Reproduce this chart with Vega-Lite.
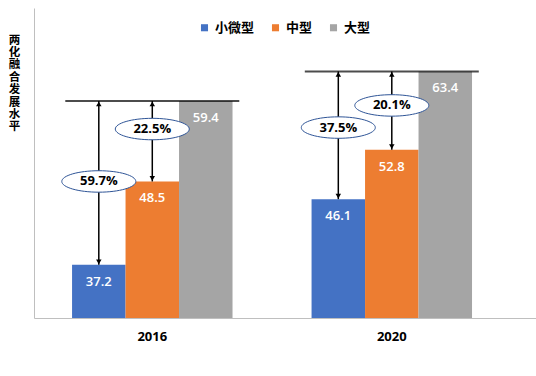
{
  "$schema": "https://vega.github.io/schema/vega-lite/v6.json",
  "width": 502,
  "height": 310,
  "autosize": {"type": "none"},
  "padding": {"left": 34, "top": 8, "right": 0, "bottom": 58},
  "config": {"view": {"stroke": null}, "font": "Noto Sans CJK SC"},
  "datasets": {
    "bars": [
      {"year": "2016", "type": "小微型", "value": 37.2},
      {"year": "2016", "type": "中型", "value": 48.5},
      {"year": "2016", "type": "大型", "value": 59.4},
      {"year": "2020", "type": "小微型", "value": 46.1},
      {"year": "2020", "type": "中型", "value": 52.8},
      {"year": "2020", "type": "大型", "value": 63.4}
    ],
    "arrows": [
      {"year": "2016", "type": "小微型", "top": 59.4, "bottom": 37.2, "label": "59.7%", "labelY": 48.5},
      {"year": "2016", "type": "中型", "top": 59.4, "bottom": 48.5, "label": "22.5%", "labelY": 55.6},
      {"year": "2020", "type": "小微型", "top": 63.4, "bottom": 46.1, "label": "37.5%", "labelY": 55.8},
      {"year": "2020", "type": "中型", "top": 63.4, "bottom": 52.8, "label": "20.1%", "labelY": 58.8}
    ]
  },
  "layer": [
    {
      "data": {"name": "bars"},
      "mark": {"type": "bar"},
      "encoding": {
        "x": {
          "field": "year", "type": "nominal",
          "scale": {"paddingInner": 0.33, "paddingOuter": 0.213, "align": 0.373},
          "axis": {"title": null, "labelAngle": 0, "ticks": false, "labelFontSize": 13, "labelFontWeight": "bold", "labelColor": "#000000", "labelPadding": 12, "domainColor": "#bfbfbf", "labelFont": "Open Sans"}
        },
        "xOffset": {"field": "type", "type": "nominal", "scale": {"domain": ["小微型", "中型", "大型"], "paddingInner": 0, "paddingOuter": 0}},
        "y": {
          "field": "value", "type": "quantitative",
          "scale": {"domain": [30, 72], "zero": false, "nice": false},
          "axis": {"title": ["两", "化", "融", "合", "发", "展", "水", "平"], "titleAngle": 0, "titleX": -20, "titleY": 26, "titleAlign": "center", "titleBaseline": "top", "titleFontSize": 11.5, "titleFontWeight": "bold", "titleColor": "#000000", "titleLineHeight": 12.4, "labels": false, "ticks": false, "grid": false, "domainColor": "#bfbfbf"}
        },
        "y2": {"datum": 30},
        "color": {
          "field": "type", "type": "nominal",
          "scale": {"domain": ["小微型", "中型", "大型"], "range": ["#4472C4", "#ED7D31", "#A5A5A5"]},
          "legend": {"title": null, "orient": "none", "legendX": 164, "legendY": 13, "direction": "horizontal", "symbolType": "square", "symbolSize": 50, "symbolStrokeWidth": 0, "labelFontSize": 13, "labelFontWeight": "bold", "labelColor": "#000000", "columnPadding": 14, "labelOffset": 4, "padding": 0}
        }
      }
    },
    {
      "data": {"name": "bars"},
      "mark": {"type": "text", "dy": 17, "color": "white", "fontSize": 13, "fontWeight": 600, "font": "Open Sans", "baseline": "middle"},
      "encoding": {
        "x": {"field": "year", "type": "nominal"},
        "xOffset": {"field": "type", "type": "nominal", "scale": {"domain": ["小微型", "中型", "大型"]}},
        "y": {"field": "value", "type": "quantitative"},
        "text": {"field": "value", "type": "quantitative", "format": ".1f"}
      }
    },
    {
      "data": {"name": "bars"},
      "transform": [{"filter": "datum.type == '大型'"}],
      "mark": {"type": "tick", "orient": "horizontal", "size": 174, "thickness": 2, "color": "#000000"},
      "encoding": {
        "x": {"field": "year", "type": "nominal"},
        "y": {"field": "value", "type": "quantitative"}
      }
    },
    {
      "data": {"name": "arrows"},
      "mark": {"type": "rule", "strokeWidth": 1.5, "color": "#000000"},
      "encoding": {
        "x": {"field": "year", "type": "nominal"},
        "xOffset": {"field": "type", "type": "nominal", "scale": {"domain": ["小微型", "中型", "大型"]}},
        "y": {"field": "top", "type": "quantitative"},
        "y2": {"field": "bottom"}
      }
    },
    {
      "data": {"name": "arrows"},
      "mark": {"type": "point", "shape": "triangle-up", "size": 30, "filled": true, "color": "#000000", "opacity": 1, "yOffset": 3},
      "encoding": {
        "x": {"field": "year", "type": "nominal"},
        "xOffset": {"field": "type", "type": "nominal", "scale": {"domain": ["小微型", "中型", "大型"]}},
        "y": {"field": "top", "type": "quantitative"}
      }
    },
    {
      "data": {"name": "arrows"},
      "mark": {"type": "point", "shape": "triangle-down", "size": 30, "filled": true, "color": "#000000", "opacity": 1, "yOffset": -3},
      "encoding": {
        "x": {"field": "year", "type": "nominal"},
        "xOffset": {"field": "type", "type": "nominal", "scale": {"domain": ["小微型", "中型", "大型"]}},
        "y": {"field": "bottom", "type": "quantitative"}
      }
    },
    {
      "data": {"name": "arrows"},
      "mark": {"type": "point", "shape": "M -1 0 A 1 0.29 0 1 0 1 0 A 1 0.29 0 1 0 -1 0 Z", "size": 5476, "filled": false, "fill": "white", "fillOpacity": 1, "stroke": "#2F5597", "strokeWidth": 1, "opacity": 1},
      "encoding": {
        "x": {"field": "year", "type": "nominal"},
        "xOffset": {"field": "type", "type": "nominal", "scale": {"domain": ["小微型", "中型", "大型"]}},
        "y": {"field": "labelY", "type": "quantitative"}
      }
    },
    {
      "data": {"name": "arrows"},
      "mark": {"type": "text", "fontSize": 13, "fontWeight": "bold", "font": "Open Sans", "color": "#000000", "baseline": "middle"},
      "encoding": {
        "x": {"field": "year", "type": "nominal"},
        "xOffset": {"field": "type", "type": "nominal", "scale": {"domain": ["小微型", "中型", "大型"]}},
        "y": {"field": "labelY", "type": "quantitative"},
        "text": {"field": "label"}
      }
    }
  ]
}
